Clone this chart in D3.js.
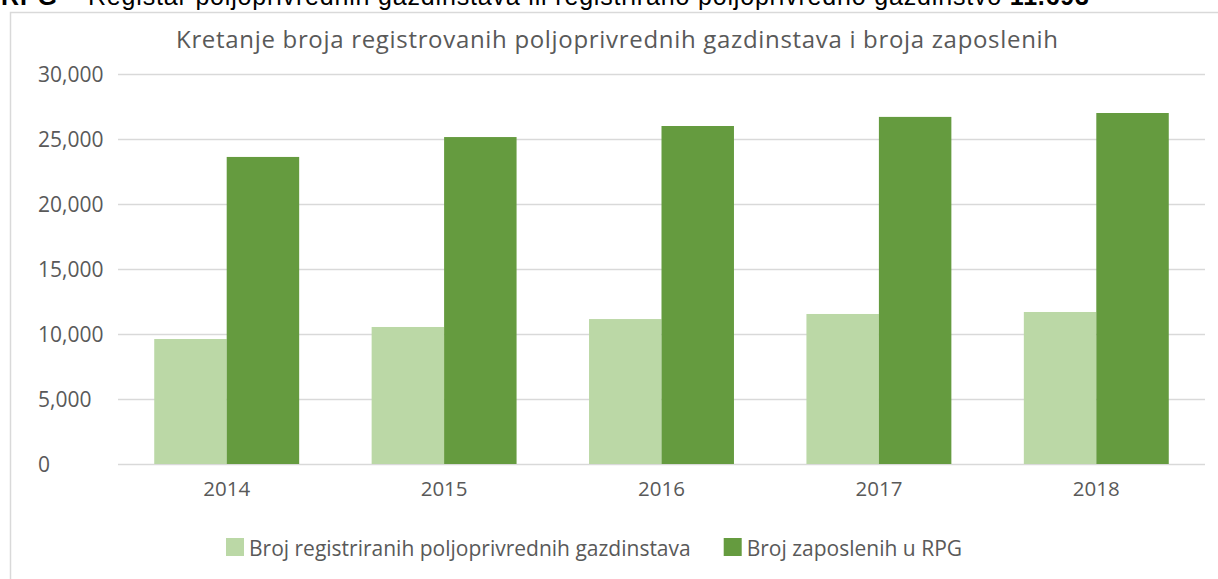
<!DOCTYPE html>
<html>
<head>
<meta charset="utf-8">
<script src="https://cdn.jsdelivr.net/npm/d3@7"></script>
<style>
  html, body { margin: 0; padding: 0; background: #fff; overflow: hidden; }
  text { font-family: "Open Sans", sans-serif; }
</style>
</head>
<body>
<div id="chart"></div>
<script>
const years = ["2014", "2015", "2016", "2017", "2018"];
const seriesNames = ["Broj registriranih poljoprivrednih gazdinstava", "Broj zaposlenih u RPG"];
const registrovana = [9615, 10540, 11150, 11540, 11693];
const zaposleni = [23620, 25150, 26000, 26700, 27000];
const yTicks = [0, 5000, 10000, 15000, 20000, 25000, 30000];

const w = 1218;
const h = 579;
const colors = ["#bbd8a6", "#659b3f"];
const textColor = "#595959";

const plotLeft = 118, plotRight = 1205, plotTop = 74, plotBottom = 464;

const data = years.map((y, i) => ({ year: y, values: [registrovana[i], zaposleni[i]] }));

const svg = d3.select("#chart")
  .append("svg")
  .attr("width", w)
  .attr("height", h);

svg.append("rect").attr("width", w).attr("height", h).attr("fill", "#fff");

// header text above the chart (cut off at top, as in the source)
const head = svg.append("text")
  .attr("x", 1)
  .attr("y", 5)
  .attr("fill", "#000")
  .attr("textLength", 1088)
  .style("font-family", "'Liberation Sans', Arial, sans-serif")
  .style("font-size", "25px");
head.append("tspan").attr("font-weight", "bold").text("RPG");
head.append("tspan").text(" – Registar poljoprivrednih gazdinstava ili registrirano poljoprivredno gazdinstvo ");
head.append("tspan").attr("font-weight", "bold").text("11.693");

// chart frame
svg.append("rect")
  .attr("x", 10.5)
  .attr("y", 12.5)
  .attr("width", 1300)
  .attr("height", 700)
  .attr("fill", "#fff")
  .attr("stroke", "#d9d9d9")
  .attr("stroke-width", 1.5);

const x0 = d3.scaleBand()
  .domain(years)
  .range([plotLeft, plotRight])
  .paddingInner(1 / 3)
  .paddingOuter(1 / 6);

const x1 = d3.scaleBand()
  .domain([0, 1])
  .range([0, x0.bandwidth()]);

const yScale = d3.scaleLinear()
  .domain([0, 30000])
  .range([plotBottom, plotTop]);

// gridlines
const grid = svg.append("g")
  .attr("transform", "translate(" + plotLeft + ",0)")
  .call(d3.axisRight(yScale).tickValues(yTicks).tickSize(plotRight - plotLeft).tickFormat(""));
grid.select(".domain").remove();
grid.selectAll("line").attr("stroke", "#d9d9d9").attr("stroke-width", 1.5);

// bars
svg.append("g")
  .selectAll("g")
  .data(data)
  .enter()
  .append("g")
  .attr("transform", (d) => "translate(" + x0(d.year) + ",0)")
  .selectAll("rect")
  .data((d) => d.values)
  .enter()
  .append("rect")
  .attr("x", (d, i) => x1(i))
  .attr("width", x1.bandwidth())
  .attr("y", (d) => yScale(d))
  .attr("height", (d) => plotBottom - yScale(d))
  .attr("fill", (d, i) => colors[i]);

// y axis labels
const yAxis = svg.append("g")
  .attr("transform", "translate(" + plotLeft + ",0)")
  .call(d3.axisLeft(yScale).tickValues(yTicks).tickSize(0).tickFormat(d3.format(",")));
yAxis.select(".domain").remove();
yAxis.selectAll("text")
  .attr("x", 38 - plotLeft)
  .attr("dy", "0.36em")
  .attr("text-anchor", "start")
  .attr("fill", textColor)
  .style("font-size", "21px");

// x axis labels
const xAxis = svg.append("g")
  .attr("transform", "translate(0," + plotBottom + ")")
  .call(d3.axisBottom(x0).tickSize(0).tickPadding(17));
xAxis.select(".domain").remove();
xAxis.selectAll("text")
  .attr("fill", textColor)
  .style("font-size", "20.5px");

// title
svg.append("text")
  .attr("x", 617)
  .attr("y", 48)
  .attr("text-anchor", "middle")
  .attr("fill", textColor)
  .attr("textLength", 882)
  .style("font-size", "24px")
  .text("Kretanje broja registrovanih poljoprivrednih gazdinstava i broja zaposlenih");

// legend
const legend = svg.append("g").attr("transform", "translate(226,0)");
let lx = 0;
seriesNames.forEach((name, i) => {
  legend.append("rect")
    .attr("x", lx)
    .attr("y", 538)
    .attr("width", 18)
    .attr("height", 18)
    .attr("fill", colors[i]);
  const t = legend.append("text")
    .attr("x", lx + 23)
    .attr("y", 556)
    .attr("fill", textColor)
    .style("font-size", "21px")
    .text(name);
  lx += 23 + t.node().getComputedTextLength() + 33;
});
</script>
</body>
</html>
